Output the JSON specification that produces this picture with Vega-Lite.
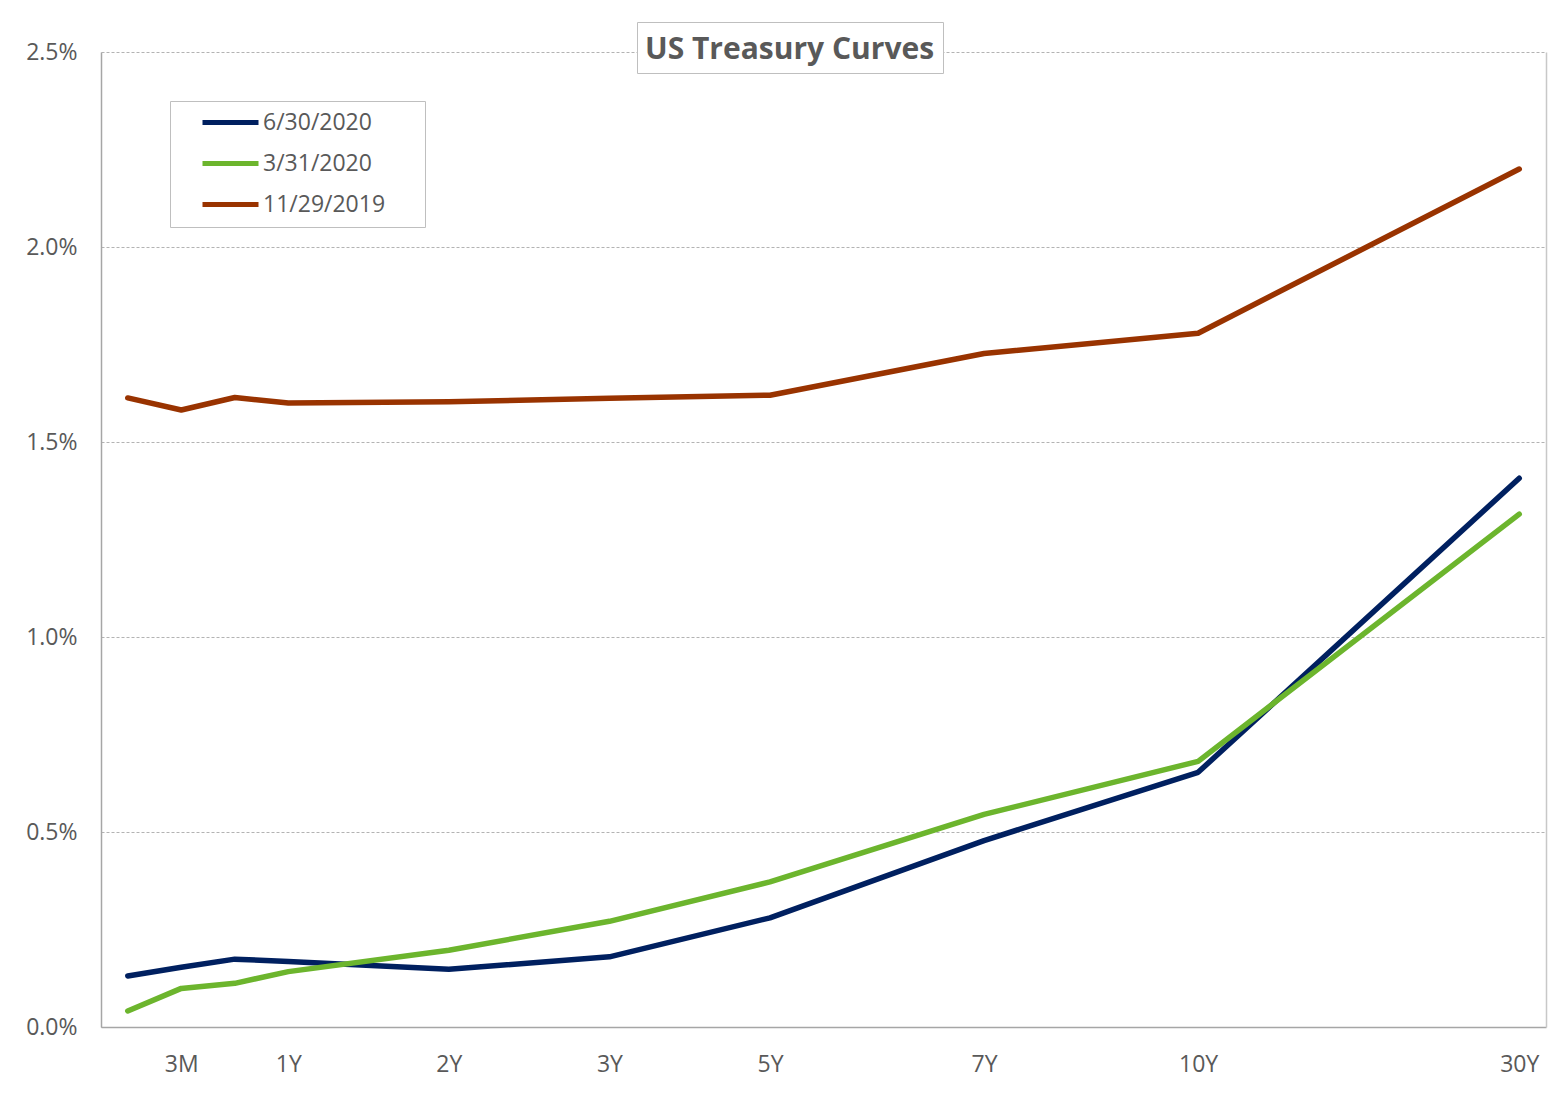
{
  "$schema": "https://vega.github.io/schema/vega-lite/v6.json",
  "width": 1445,
  "height": 975,
  "autosize": {"type": "none"},
  "padding": {"left": 101, "top": 52, "right": 18, "bottom": 78},
  "background": "white",
  "config": {"view": {"stroke": null}, "font": "Open Sans"},
  "data": {
    "values": [
      {"date": "6/30/2020", "tenor": "1M", "slot": 0, "yield": 0.131},
      {"date": "6/30/2020", "tenor": "3M", "slot": 1, "yield": 0.153},
      {"date": "6/30/2020", "tenor": "6M", "slot": 2, "yield": 0.174},
      {"date": "6/30/2020", "tenor": "1Y", "slot": 3, "yield": 0.168},
      {"date": "6/30/2020", "tenor": "2Y", "slot": 6, "yield": 0.148},
      {"date": "6/30/2020", "tenor": "3Y", "slot": 9, "yield": 0.180},
      {"date": "6/30/2020", "tenor": "5Y", "slot": 12, "yield": 0.280},
      {"date": "6/30/2020", "tenor": "7Y", "slot": 16, "yield": 0.478},
      {"date": "6/30/2020", "tenor": "10Y", "slot": 20, "yield": 0.653},
      {"date": "6/30/2020", "tenor": "30Y", "slot": 26, "yield": 1.407},
      {"date": "3/31/2020", "tenor": "1M", "slot": 0, "yield": 0.041},
      {"date": "3/31/2020", "tenor": "3M", "slot": 1, "yield": 0.099},
      {"date": "3/31/2020", "tenor": "6M", "slot": 2, "yield": 0.112},
      {"date": "3/31/2020", "tenor": "1Y", "slot": 3, "yield": 0.142},
      {"date": "3/31/2020", "tenor": "2Y", "slot": 6, "yield": 0.197},
      {"date": "3/31/2020", "tenor": "3Y", "slot": 9, "yield": 0.271},
      {"date": "3/31/2020", "tenor": "5Y", "slot": 12, "yield": 0.372},
      {"date": "3/31/2020", "tenor": "7Y", "slot": 16, "yield": 0.545},
      {"date": "3/31/2020", "tenor": "10Y", "slot": 20, "yield": 0.681},
      {"date": "3/31/2020", "tenor": "30Y", "slot": 26, "yield": 1.315},
      {"date": "11/29/2019", "tenor": "1M", "slot": 0, "yield": 1.613},
      {"date": "11/29/2019", "tenor": "3M", "slot": 1, "yield": 1.582},
      {"date": "11/29/2019", "tenor": "6M", "slot": 2, "yield": 1.614},
      {"date": "11/29/2019", "tenor": "1Y", "slot": 3, "yield": 1.600},
      {"date": "11/29/2019", "tenor": "2Y", "slot": 6, "yield": 1.603},
      {"date": "11/29/2019", "tenor": "3Y", "slot": 9, "yield": 1.612},
      {"date": "11/29/2019", "tenor": "5Y", "slot": 12, "yield": 1.620},
      {"date": "11/29/2019", "tenor": "7Y", "slot": 16, "yield": 1.727},
      {"date": "11/29/2019", "tenor": "10Y", "slot": 20, "yield": 1.779},
      {"date": "11/29/2019", "tenor": "30Y", "slot": 26, "yield": 2.200}
    ]
  },
  "layer": [
    {
      "mark": {"type": "line", "strokeWidth": 5.5, "strokeCap": "round", "strokeJoin": "round"},
      "encoding": {
        "x": {
          "field": "slot",
          "type": "quantitative",
          "scale": {"domain": [-0.5, 26.5], "nice": false, "zero": false},
          "axis": {
            "title": null,
            "values": [1, 3, 6, 9, 12, 16, 20, 26],
            "labelExpr": "datum.value == 1 ? '3M' : datum.value == 3 ? '1Y' : datum.value == 6 ? '2Y' : datum.value == 9 ? '3Y' : datum.value == 12 ? '5Y' : datum.value == 16 ? '7Y' : datum.value == 20 ? '10Y' : '30Y'",
            "grid": false,
            "ticks": false,
            "domain": true,
            "domainColor": "#a6a6a6",
            "domainWidth": 1.5,
            "labelFont": "Open Sans",
            "labelFontSize": 23,
            "labelColor": "#595959",
            "labelPadding": 26
          }
        },
        "y": {
          "field": "yield",
          "type": "quantitative",
          "scale": {"domain": [0, 2.5], "nice": false},
          "axis": {
            "title": null,
            "values": [0, 0.5, 1, 1.5, 2, 2.5],
            "labelExpr": "format(datum.value, '.1f') + '%'",
            "grid": true,
            "gridColor": "#b3b3b3",
            "gridDash": [3, 2],
            "gridWidth": 1,
            "ticks": false,
            "domain": true,
            "domainColor": "#a6a6a6",
            "domainWidth": 1.5,
            "labelFont": "Open Sans",
            "labelFontSize": 23,
            "labelColor": "#595959",
            "labelPadding": 24
          }
        },
        "color": {
          "field": "date",
          "type": "nominal",
          "scale": {"domain": ["6/30/2020", "3/31/2020", "11/29/2019"], "range": ["#002060", "#6CB52D", "#993300"]},
          "legend": {
            "title": ".",
            "titleOrient": "right",
            "titleOpacity": 0,
            "titleFontSize": 10,
            "titlePadding": 27,
            "orient": "none",
            "legendX": 69,
            "legendY": 49,
            "padding": 10,
            "symbolType": "stroke",
            "symbolSize": 3136,
            "symbolStrokeWidth": 5,
            "symbolOffset": 20,
            "labelOffset": 2,
            "labelFont": "Open Sans",
            "labelFontSize": 23,
            "labelColor": "#595959",
            "rowPadding": 17,
            "clipHeight": 23,
            "strokeColor": "#bfbfbf",
            "fillColor": "white"
          }
        }
      }
    },
    {
      "mark": {"type": "point", "opacity": 0},
      "encoding": {
        "x": {"field": "slot", "type": "quantitative"},
        "y": {
          "field": "yield",
          "type": "quantitative",
          "axis": {"orient": "right", "title": null, "labels": false, "ticks": false, "grid": false, "domain": true, "domainColor": "#c8c8c8", "domainWidth": 1.5}
        },
        "shape": {
          "datum": "US Treasury Curves",
          "legend": {
            "title": "US Treasury Curves",
            "orient": "none",
            "legendX": 536,
            "legendY": -30,
            "padding": 8,
            "titleFont": "Open Sans",
            "titleFontSize": 30,
            "titleBaseline": "line-top",
            "titleLineHeight": 40,
            "titleFontWeight": "bold",
            "titleColor": "#595959",
            "titleLimit": 500,
            "titlePadding": 0,
            "symbolSize": 1,
            "symbolOpacity": 0,
            "symbolStrokeWidth": 0,
            "labelFontSize": 1,
            "labelExpr": "''",
            "clipHeight": 1,
            "strokeColor": "#bfbfbf",
            "fillColor": "white"
          }
        }
      }
    }
  ],
  "resolve": {"axis": {"y": "independent"}}
}
